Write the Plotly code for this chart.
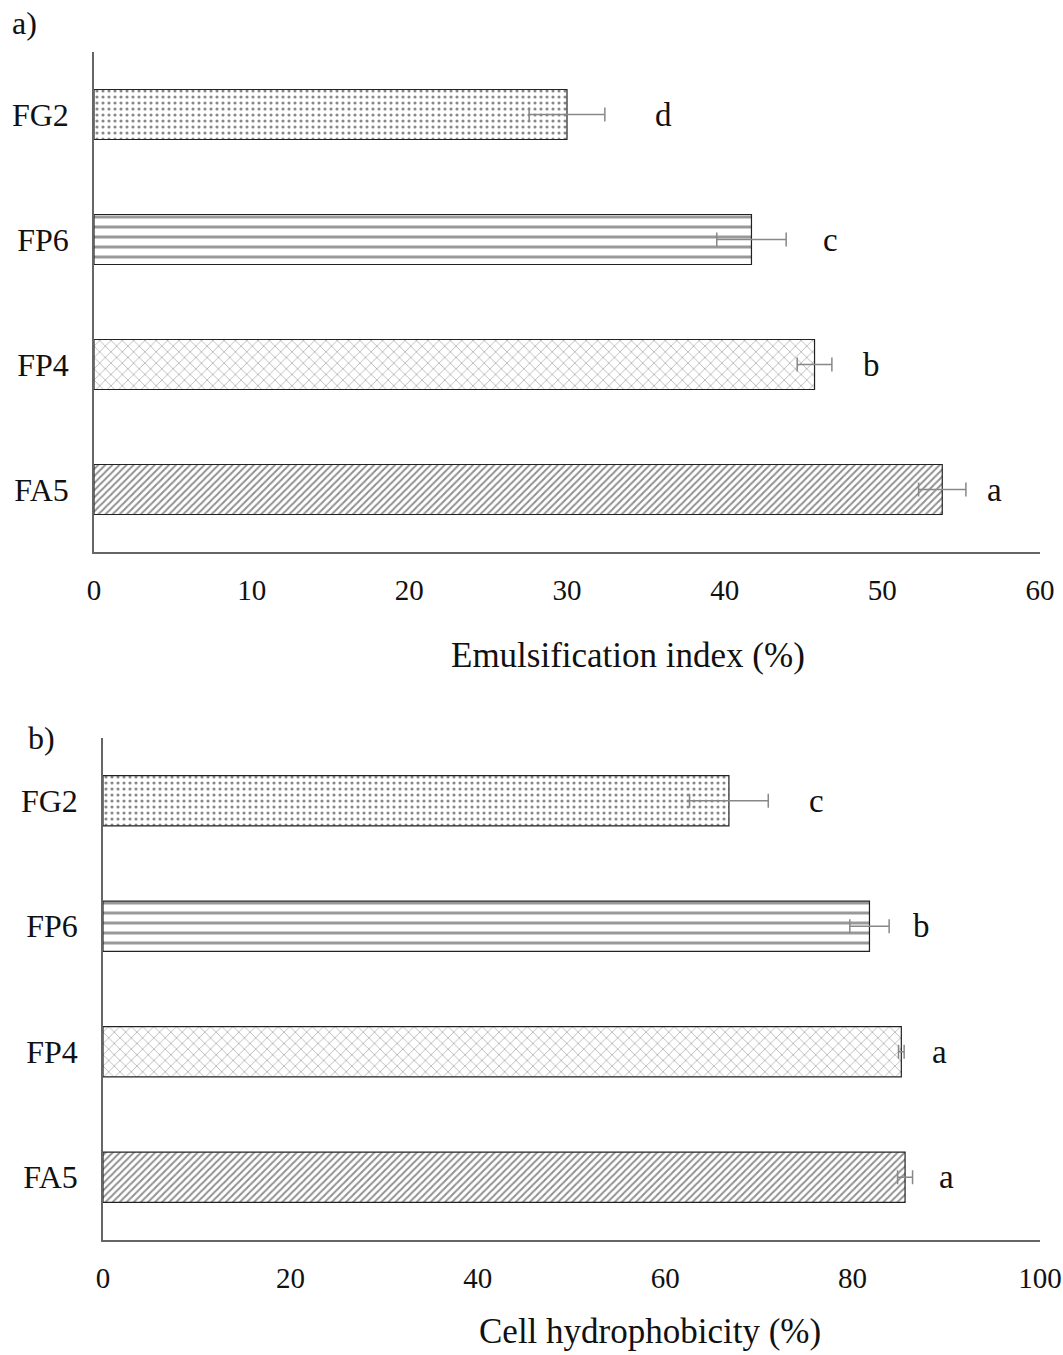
import plotly.graph_objects as go

# ---- data ----
strains = ["FG2", "FP6", "FP4", "FA5"]

emul_values = [30.0, 41.7, 45.7, 53.8]
emul_errors = [2.4, 2.2, 1.1, 1.5]
emul_letters = ["d", "c", "b", "a"]
emul_letter_x = [36.1, 46.7, 49.3, 57.1]

hydro_values = [66.8, 81.8, 85.2, 85.6]
hydro_errors = [4.2, 2.1, 0.3, 0.8]
hydro_letters = ["c", "b", "a", "a"]
hydro_letter_x = [76.1, 87.3, 89.3, 90.0]

emul_ticks = [0, 10, 20, 30, 40, 50, 60]
hydro_ticks = [0, 20, 40, 60, 80, 100]

patterns = [
    dict(shape=".", size=6, solidity=0.22, fgcolor="#111", bgcolor="white"),
    dict(shape="-", size=10, solidity=0.3, fgcolor="#333", bgcolor="white"),
    dict(shape="x", size=8, solidity=0.15, fgcolor="#333", bgcolor="white"),
    dict(shape="/", size=5, solidity=0.4, fgcolor="#222", bgcolor="white"),
]

FONT = "Liberation Serif, Times New Roman, serif"
W, H = 1063, 1355

fig = go.Figure()

def add_panel(values, errors, xa, ya):
    for i, s in enumerate(strains):
        fig.add_trace(go.Bar(
            x=[values[i]], y=[s], orientation="h",
            width=0.4,
            marker=dict(color="white", pattern=patterns[i],
                        line=dict(color="#222", width=1.2)),
            error_x=dict(type="data", array=[errors[i]], visible=True,
                         color="#888", thickness=1.5, width=7),
            xaxis=xa, yaxis=ya, showlegend=False,
        ))

add_panel(emul_values, emul_errors, "x", "y")
add_panel(hydro_values, hydro_errors, "x2", "y2")

def px_x(p):
    return p / W

def px_y(p):
    return 1 - p / H

axis_common = dict(showgrid=False, zeroline=False, showline=True,
                   linecolor="#666", linewidth=1.5, ticks="",
                   automargin=False)
xfont = dict(family=FONT, size=29, color="#111")
yfont = dict(family=FONT, size=32, color="#111")

fig.update_layout(
    width=W, height=H,
    margin=dict(l=0, r=0, t=0, b=0, autoexpand=False),
    plot_bgcolor="white", paper_bgcolor="white",
    barmode="overlay",
    xaxis=dict(domain=[px_x(94), px_x(1040)], range=[0, 60],
               tickvals=emul_ticks, anchor="y", ticklabelstandoff=11,
               tickfont=xfont, **axis_common),
    yaxis=dict(domain=[px_y(552), px_y(52)], type="category",
               categoryorder="array", categoryarray=strains[::-1],
               range=[-0.5, 3.5], anchor="x", ticklabelstandoff=17,
               tickfont=yfont, **axis_common),
    xaxis2=dict(domain=[px_x(103), px_x(1040)], range=[0, 100],
                tickvals=hydro_ticks, anchor="y2", ticklabelstandoff=11,
                tickfont=xfont, **axis_common),
    yaxis2=dict(domain=[px_y(1240), px_y(738)], type="category",
                categoryorder="array", categoryarray=strains[::-1],
                range=[-0.5, 3.5], anchor="x2", ticklabelstandoff=17,
                tickfont=yfont, **axis_common),
)

annos = []
for i, s in enumerate(strains):
    annos.append(dict(x=emul_letter_x[i], y=s, xref="x", yref="y",
                      text=emul_letters[i], showarrow=False,
                      xanchor="center", yanchor="middle",
                      font=dict(family=FONT, size=33, color="#111")))
    annos.append(dict(x=hydro_letter_x[i], y=s, xref="x2", yref="y2",
                      text=hydro_letters[i], showarrow=False,
                      xanchor="center", yanchor="middle",
                      font=dict(family=FONT, size=33, color="#111")))

annos += [
    dict(x=px_x(628), y=px_y(655), xref="paper", yref="paper",
         text="Emulsification index (%)", showarrow=False,
         xanchor="center", yanchor="middle",
         font=dict(family=FONT, size=35, color="#111")),
    dict(x=px_x(650), y=px_y(1331), xref="paper", yref="paper",
         text="Cell hydrophobicity (%)", showarrow=False,
         xanchor="center", yanchor="middle",
         font=dict(family=FONT, size=35, color="#111")),
    dict(x=px_x(10), y=px_y(23), xref="paper", yref="paper",
         text="a)", showarrow=False, xanchor="left", yanchor="middle",
         font=dict(family=FONT, size=32, color="#111")),
    dict(x=px_x(26), y=px_y(738), xref="paper", yref="paper",
         text="b)", showarrow=False, xanchor="left", yanchor="middle",
         font=dict(family=FONT, size=32, color="#111")),
]
fig.update_layout(annotations=annos)

fig.write_html(
    "out.html",
    config={"displayModeBar": False},
    post_script="document.body.style.margin='0';"
                "document.body.style.overflow='hidden';",
)
